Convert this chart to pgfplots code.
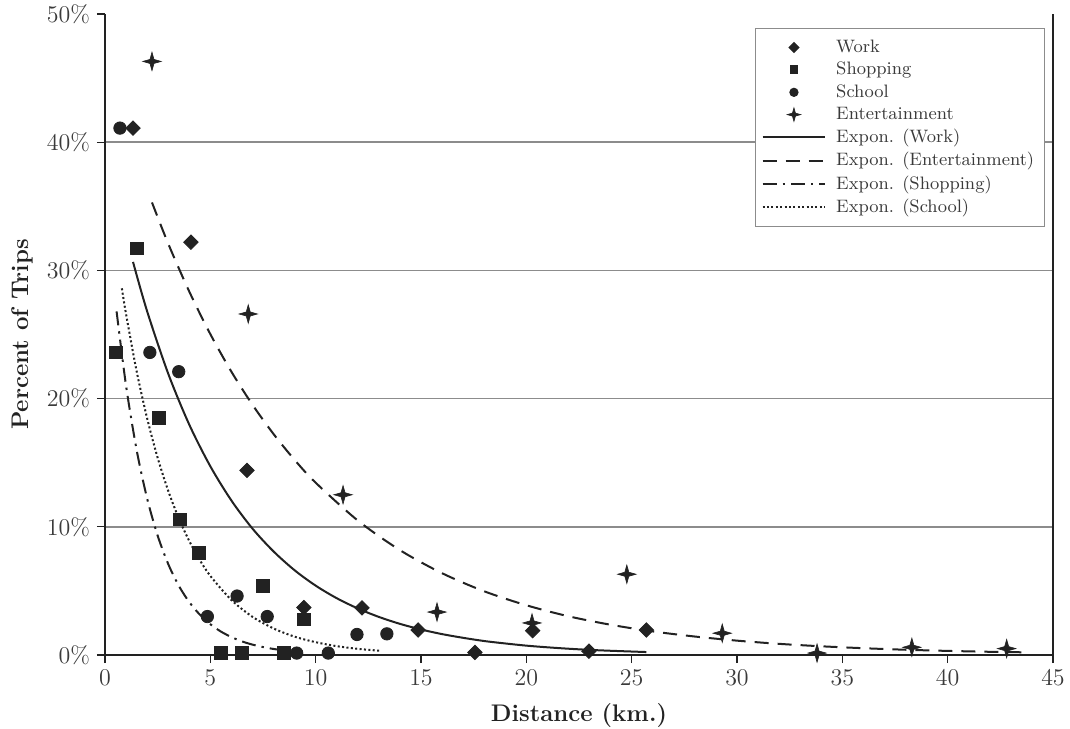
\documentclass[border=0pt]{standalone}
\usepackage{pgfplots}
\pgfplotsset{compat=1.18}
\usetikzlibrary{calc}

\definecolor{ink}{HTML}{222222}
\definecolor{txt}{HTML}{3A3A3A}
\definecolor{gridc}{HTML}{8C8C8C}

% four-pointed star used for the Entertainment points
\pgfdeclareplotmark{sparkle}{%
  \pgfpathmoveto{\pgfqpoint{0pt}{\pgfplotmarksize}}%
  \pgfpathlineto{\pgfqpoint{0.22\pgfplotmarksize}{0.22\pgfplotmarksize}}%
  \pgfpathlineto{\pgfqpoint{\pgfplotmarksize}{0pt}}%
  \pgfpathlineto{\pgfqpoint{0.22\pgfplotmarksize}{-0.22\pgfplotmarksize}}%
  \pgfpathlineto{\pgfqpoint{0pt}{-\pgfplotmarksize}}%
  \pgfpathlineto{\pgfqpoint{-0.22\pgfplotmarksize}{-0.22\pgfplotmarksize}}%
  \pgfpathlineto{\pgfqpoint{-\pgfplotmarksize}{0pt}}%
  \pgfpathlineto{\pgfqpoint{-0.22\pgfplotmarksize}{0.22\pgfplotmarksize}}%
  \pgfpathclose\pgfusepathqfillstroke}
% square diamond (the built-in one is narrow)
\pgfdeclareplotmark{rhomb}{%
  \pgfpathmoveto{\pgfqpoint{0pt}{\pgfplotmarksize}}%
  \pgfpathlineto{\pgfqpoint{\pgfplotmarksize}{0pt}}%
  \pgfpathlineto{\pgfqpoint{0pt}{-\pgfplotmarksize}}%
  \pgfpathlineto{\pgfqpoint{-\pgfplotmarksize}{0pt}}%
  \pgfpathclose\pgfusepathqfillstroke}

\pgfplotsset{
  marklegend/.style={legend image code/.code={%
      \draw[mark repeat=2,mark phase=2,##1,mark size=#1]
        plot coordinates {(0cm,0cm) (0.55cm,0cm) (1.1cm,0cm)};}},
  linelegend/.style={legend image code/.code={%
      \draw[##1] (0cm,0cm) -- (1.1cm,0cm);}},
}

\begin{document}
\begin{tikzpicture}
\begin{axis}[
    scale only axis,
    width=474pt, height=320.5pt,
    xmin=0, xmax=45, ymin=0, ymax=50,
    xtick={0,5,...,45},
    ytick={0,10,20,30,40},
    extra y ticks={50},
    extra y tick style={grid=none},
    yticklabel={\pgfmathprintnumber{\tick}\%},
    axis x line*=bottom, axis y line*=box,
    ytick pos=left, xtick pos=bottom,
    tick align=outside,
    major tick length=4pt,
    tick style={ink, line width=0.6pt},
    axis line style={ink, line width=1pt},
    ymajorgrids,
    grid style={gridc, line width=0.8pt},
    ticklabel style={font=\large, text=txt},
    xlabel={\textbf{Distance (km.)}},
    ylabel={\textbf{Percent of Trips}},
    label style={font=\large, text=ink},
    xlabel style={yshift=-2pt},
    ylabel style={yshift=-8pt},
    legend style={at={(rel axis cs:0.6857,0.978)}, anchor=north west,
      draw=gridc, line width=0.6pt, font=\small, text=txt,
      cells={anchor=west}, row sep=-0.6pt,
      inner xsep=3pt, inner ysep=3.5pt},
    legend cell align=left,
    clip=false,
]
% Work
\addplot[only marks, mark=rhomb, mark size=3.6pt, ink, marklegend=2.4pt]
  coordinates {(1.33,41.1) (4.08,32.2) (6.74,14.4) (9.44,3.7) (12.2,3.67)
    (14.86,1.95) (17.56,0.2) (20.3,1.9) (22.97,0.3) (25.7,1.95)};
\addlegendentry{\hspace*{3pt}Work}
% Shopping
\addplot[only marks, mark=square*, mark size=3.1pt, ink, marklegend=1.9pt]
  coordinates {(0.52,23.6) (1.52,31.7) (2.56,18.5) (3.56,10.6) (4.46,7.95)
    (7.5,5.4) (9.44,2.8) (5.5,0.15) (6.5,0.15) (8.5,0.15)};
\addlegendentry{\hspace*{3pt}Shopping}
% School
\addplot[only marks, mark=*, mark size=3.1pt, ink, marklegend=2pt]
  coordinates {(0.71,41.1) (2.13,23.6) (3.5,22.1) (4.86,3.0) (6.27,4.6)
    (7.7,3.0) (9.1,0.15) (10.6,0.15) (11.96,1.6) (13.38,1.65)};
\addlegendentry{\hspace*{3pt}School}
% Entertainment
\addplot[only marks, mark=sparkle, mark size=4.6pt, ink, line width=0.3pt, marklegend=3.4pt]
  coordinates {(2.23,46.3) (6.8,26.6) (11.3,12.5) (15.76,3.35) (20.27,2.5)
    (24.77,6.3) (29.3,1.7) (33.8,0.15) (38.3,0.6) (42.8,0.5)};
\addlegendentry{\hspace*{3pt}Entertainment}
% Expon. (Work)
\addplot[ink, line width=1pt, smooth, linelegend] coordinates {
  (1.33,30.66) (2,26.81) (3,21.95) (4,17.97) (5,14.72) (6,12.05) (7,9.86)
  (8,8.08) (9,6.61) (10,5.41) (11,4.43) (12,3.63) (13,2.97) (14,2.43)
  (15,1.99) (16,1.63) (17,1.34) (18,1.09) (19,0.90) (20,0.73) (21,0.60)
  (22,0.49) (23,0.40) (24,0.33) (25.7,0.23)};
\addlegendentry{\hspace*{3pt}Expon. (Work)}
% Expon. (Entertainment)
\addplot[ink, line width=1pt, smooth, dash pattern=on 7pt off 4.5pt, linelegend] coordinates {
  (2.23,35.3) (3,32.09) (4,28.35) (5,25.03) (6,22.10) (7,19.52) (8,17.24)
  (9,15.22) (10,13.44) (12,10.49) (14,8.18) (16,6.38) (18,4.97) (20,3.88)
  (22,3.02) (24,2.36) (26,1.84) (28,1.44) (30,1.12) (32,0.87) (34,0.68)
  (36,0.53) (38,0.41) (40,0.32) (42,0.25) (43.6,0.21)};
\addlegendentry{\hspace*{3pt}Expon. (Entertainment)}
% Expon. (Shopping)
\addplot[ink, line width=1pt, smooth, dash pattern=on 7pt off 3pt on 1.2pt off 3pt, linelegend] coordinates {
  (0.55,26.8) (1,21.0) (1.5,16.01) (2,12.21) (2.5,9.31) (3,7.10) (3.5,5.41)
  (4,4.13) (4.5,3.15) (5,2.40) (5.5,1.83) (6,1.40) (6.5,1.06) (7,0.81)
  (7.5,0.62) (8,0.47) (8.5,0.36)};
\addlegendentry{\hspace*{3pt}Expon. (Shopping)}
% Expon. (School)
\addplot[ink, line width=1pt, smooth, dash pattern=on 1pt off 1.2pt, linelegend] coordinates {
  (0.8,28.6) (1,26.59) (1.5,22.15) (2,18.46) (2.5,15.38) (3,12.81) (3.5,10.67)
  (4,8.89) (4.5,7.41) (5,6.17) (6,4.29) (7,2.98) (8,2.07) (9,1.43) (10,1.00)
  (11,0.69) (12,0.48) (13.05,0.33)};
\addlegendentry{\hspace*{3pt}Expon. (School)}
\end{axis}
\pgfresetboundingbox
\path[use as bounding box] ($(current axis.south west)+(-52.5pt,-36.5pt)$)
  rectangle ($(current axis.north east)+(8.5pt,7pt)$);
\end{tikzpicture}
\end{document}
